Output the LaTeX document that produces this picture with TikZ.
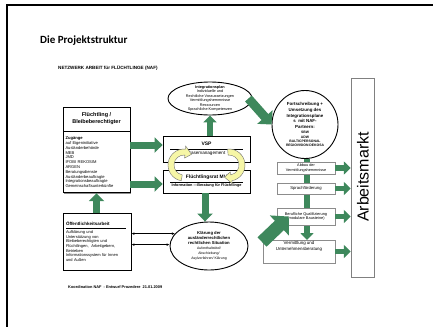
\documentclass[tikz,border=0pt]{standalone}
\usepackage{fontspec}
\setmainfont{Liberation Sans}
\newfontfamily\slidefont{Carlito}
\usepackage{xcolor}
\usepackage{tikz}
\usetikzlibrary{arrows.meta,calc,shapes.geometric,shadows}
\definecolor{nafgreen}{RGB}{62,136,92}
\definecolor{cycleyellow}{RGB}{246,246,166}
\newcommand{\fsz}[2]{\fontsize{#1}{#2}\selectfont}
\newcommand{\partnerfont}{\bfseries\fsz{3.4}{4}}
\newcommand{\detailfont}{\mdseries\fsz{3.5}{4.3}}

\begin{document}
\begin{tikzpicture}
[x=1pt,y=-1pt,
 every node/.style={inner sep=0pt,align=center},
 blackbox/.style={rectangle,draw,fill=white,line width=0.8pt},
 graybox/.style={rectangle,draw=black!45,fill=white,line width=0.5pt,
   drop shadow={shadow xshift=1pt,shadow yshift=-1pt,fill=black!25,opacity=1}},
 oval/.style={ellipse,draw,fill=white,line width=0.9pt},
 greenarrow/.style={draw=nafgreen,line width=7pt,-{Triangle[length=8pt,width=15pt]}},
 slimgreen/.style={draw=nafgreen,line width=5.5pt,-{Triangle[length=7pt,width=13pt]}},
 widegreen/.style={draw=nafgreen,line width=9pt,-{Triangle[length=10pt,width=20pt]}},
 hugegreen/.style={draw=nafgreen,line width=13pt,-{Triangle[length=13pt,width=27pt]}},
 thinarrow/.style={{Latex[length=3pt,width=2.5pt]}-{Latex[length=3pt,width=2.5pt]},line width=0.5pt},
 cyclearrow/.style={fill=cycleyellow,draw=black!55,line width=0.4pt}]
\useasboundingbox (0,0) rectangle (433,327);
\draw[line width=1.2pt] (433,5) -- (7,5) -- (7,327);
%
\node[anchor=base west,font=\slidefont\bfseries\fsz{11}{13}] (title) at (40,43) {Die Projektstruktur};
\node[anchor=base west,font=\bfseries\fsz{4.6}{5}] (netz) at (58,69.5) {NETZWERK ARBEIT für FLÜCHTLINGE (NAF)};
%
\node[blackbox,minimum width=67pt,minimum height=24pt,font=\bfseries\fsz{5.5}{7},
      drop shadow={shadow xshift=1.3pt,shadow yshift=-1.3pt,fill=black!45,opacity=1}] %
      (fluecht) at (96.5,119) {Flüchtling /\\Bleibeberechtigter};
\node[blackbox,minimum width=67pt,minimum height=61pt,text width=62pt,align=left,anchor=north,
      font=\fsz{4.1}{4.8},
      drop shadow={shadow xshift=1.3pt,shadow yshift=-1.3pt,fill=black!45,opacity=1}] %
      (zugang) at (fluecht.south) {\textbf{Zugänge}\\auf Eigeninitiative\\Ausländerbehörde\\MEB\\JMD\\IFOBI REKOSIM\\ARGEN\\Beratungsdienste\\Ausländerbeauftragte\\Integrationsbeauftragte\\Gemeinschaftsunterkünfte};
\node[blackbox,minimum width=68pt,minimum height=57pt,text width=62pt,align=left,
      font=\fsz{4}{4.6}] %
      (oeff) at (97,241.5) {{\bfseries\fsz{4.5}{5}Öffentlichkeitsarbeit}\\[-1.5pt]\rule{60pt}{0.4pt}\\[0.5pt]Aufklärung und\\Unterstützung von\\Bleibeberechtigten und\\Flüchtlingen,~ Arbeitgebern,\\Betrieben\\Informationssystem für Innen\\und Außen};
%
\node[blackbox,minimum width=87pt,minimum height=26pt,font=\fsz{4.6}{5.2}] %
      (vsp) at (206.5,149) {{\bfseries\fsz{5}{5.5}VSP}\\[-1.2pt]\rule{73pt}{0.4pt}\\Casemanagement};
\node[blackbox,minimum width=87pt,minimum height=23pt,font=\bfseries\fsz{3.8}{4.6}] %
      (rat) at (206.5,181.5) {{\fsz{4.9}{5.4}Flüchtlingsrat MV}\\[-1.2pt]\rule{73pt}{0.4pt}\\Information —Beratung für Flüchtlinge};
\coordinate (cleft) at (184,165);
\coordinate (cright) at (229,165);
\path[cyclearrow] ($(cleft)+(100:16)$) arc[start angle=100,end angle=275,radius=16]
      -- ($(cleft)+(275:19)$) -- ($(cleft)+(305:13)$) -- ($(cleft)+(275:7)$)
      -- ($(cleft)+(275:10)$) arc[start angle=275,end angle=100,radius=10] -- cycle;
\path[cyclearrow] ($(cright)+(265:16)$) arc[start angle=265,end angle=440,radius=16]
      -- ($(cright)+(440:19)$) -- ($(cright)+(470:13)$) -- ($(cright)+(440:7)$)
      -- ($(cright)+(440:10)$) arc[start angle=440,end angle=265,radius=10] -- cycle;
%
\node[oval,minimum width=84pt,minimum height=33pt] (integ) at (210,98.5) {};
\node[font=\fsz{3.8}{4.4}] (integtext) at (integ) {{\bfseries Integrationsplan}\\Individuelle und\\Rechtliche Voraussetzungen\\Vermittlungshemmnisse\\Ressourcen\\Sprachliche Kompetenzen};
\node[oval,minimum width=78pt,minimum height=48pt] (klaer) at (209,246) {};
\node[font=\bfseries\fsz{4.2}{4.9}] (klaertext) at (klaer) {Klärung der\\ausländerrechtlichen\\rechtlichen Situation\\\detailfont Aufenthaltstitel/\\\detailfont Abschiebung/\\\detailfont Asylverfahren/ Klärung};
%
\node[oval,minimum width=66pt,minimum height=68pt] (fort) at (305,124.5) {};
\node[font=\bfseries\fsz{4.4}{5.6}] (forttext) at (fort) {Fortschreibung +\\Umsetzung des\\Integrationsplane\\s~ mit NAF-\\Partnern:\\\partnerfont SBW\\[-1.5pt]\partnerfont ADW\\[-1.5pt]\partnerfont BALTICPERSONAL\\[-1.5pt]\partnerfont REGIOVISION DEKOSA};
\draw[slimgreen] ([xshift=2pt]fort.south) -- ([xshift=2pt]fort.south |- 0,240);
%
\node[graybox,minimum width=58pt,minimum height=12pt,font=\fsz{3.8}{4.4}] (abbau) at (306,168) {Abbau der\\Vermittlungshemmnisse};
\node[graybox,minimum width=58pt,minimum height=11pt,font=\fsz{4.2}{5}] (sprach) at (306,188.5) {Sprachförderung};
\node[graybox,minimum width=58pt,minimum height=17pt,font=\fsz{3.9}{4.8}] (quali) at (306,216.5) {Berufliche Qualifizierung\\(modulare Bausteine)};
\node[graybox,minimum width=72pt,minimum height=23pt,font=\fsz{4.4}{6}] (verm) at (299,251.5) {Vermittlung und\\Unternehmensberatung\\[5pt]};
\node[rectangle,draw=black!50,fill=white,line width=0.5pt,minimum width=23pt,minimum height=199pt] %
      (markt) at (362.5,177.5) {};
\node[rotate=90,font=\fsz{16}{18}] (markttext) at (363,177) {Arbeitsmarkt};
%
\node[anchor=west,font=\bfseries\fsz{3.9}{4.5}] (foot) at (68,287) {Koordination NAF~ - Entwurf Prozedere~ 21.01.2009};
%
\draw[greenarrow] ([yshift=4pt]zugang.east |- vsp.west) -- ([yshift=4pt]vsp.west);
\draw[greenarrow] ([yshift=-2.5pt]zugang.east |- rat.west) -- ([yshift=-2.5pt]rat.west);
\draw[greenarrow] (oeff.north -| zugang.south) -- (zugang.south);
\draw[slimgreen] (vsp.north -| integ.south) -- (integ.south);
\draw[greenarrow] ([xshift=-4pt]rat.south -| klaer.north) -- ([xshift=-4pt]klaer.north);
\draw[thinarrow] (oeff.east |- klaer.160) -- (klaer.160);
\draw[thinarrow] (oeff.east |- klaer.178) -- (klaer.178);
\draw[widegreen] ([xshift=-4pt]integ.east) -- (fort.west);
\coordinate (qualitail) at (262,242);
\draw[hugegreen] (qualitail) -- ([xshift=12pt]quali.west);
\foreach \stage in {abbau,sprach,quali,verm}
  \draw[slimgreen] (\stage.east) -- (\stage.east -| markt.west);
\end{tikzpicture}
\end{document}
